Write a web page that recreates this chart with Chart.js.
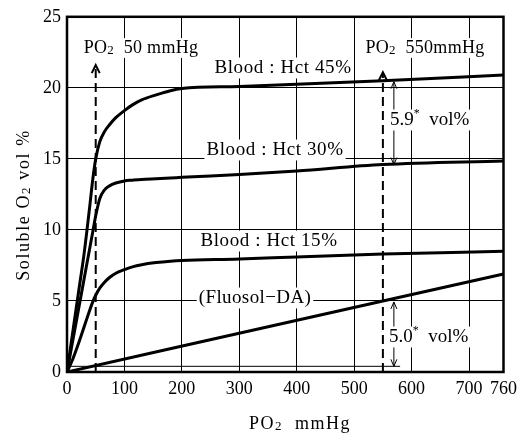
<!DOCTYPE html>
<html>
<head>
<meta charset="utf-8">
<script src="https://cdn.jsdelivr.net/npm/chart.js@4"></script>
<style>
body{margin:0;background:#fff;}
#wrap{width:523px;height:435px;}
</style>
</head>
<body>
<div id="wrap"><canvas id="o2Chart"></canvas></div>
<script>
// PO2 (mmHg) sampled for the blood curves
const PO2 = [0, 10, 20, 30, 40, 45, 50, 57, 65, 74, 85, 100, 114, 130, 155, 180, 200, 300, 400, 550, 760];
const HCT45 = [0, 2.8, 5.6, 8.4, 11.8, 13.6, 15.0, 16.2, 16.9, 17.4, 17.9, 18.4, 18.8, 19.15, 19.5, 19.8, 19.95, 20.1, 20.25, 20.5, 20.9];
const HCT30 = [0, 2.2, 4.4, 6.6, 8.8, 9.9, 11.0, 12.2, 12.8, 13.1, 13.3, 13.45, 13.5, 13.55, 13.6, 13.65, 13.7, 13.9, 14.15, 14.6, 14.85];
const HCT15 = [0, 0.9, 2.0, 3.2, 4.4, 4.95, 5.4, 5.9, 6.3, 6.65, 6.95, 7.2, 7.4, 7.55, 7.7, 7.8, 7.85, 7.95, 8.1, 8.3, 8.5];
const FLUOSOL_PO2 = [0, 550, 760];
const FLUOSOL = [0, 5.0, 6.9];

const X_TICKS = [0, 100, 200, 300, 400, 500, 600, 700, 760];
const Y_TICKS = [0, 5, 10, 15, 20, 25];
const MARK_PO2 = [50, 550];

const SERIF = '"Liberation Serif", "DejaVu Serif", serif';

function pts(xs, ys) {
  return xs.map((x, i) => ({x: x, y: ys[i]}));
}

function arrowHead(ctx, x, y, dir, w, h) {
  // dir = -1 points up, 1 points down
  ctx.beginPath();
  ctx.moveTo(x - w, y - dir * h);
  ctx.lineTo(x, y);
  ctx.lineTo(x + w, y - dir * h);
  ctx.stroke();
}

// runs: [text, scale, dy] pieces so subscripts/superscripts sit right
function runs(ctx, parts, x, cy, size, spacing, align, bg) {
  ctx.letterSpacing = (spacing || 0) + 'px';
  ctx.textBaseline = 'middle';
  ctx.textAlign = 'left';
  const widths = parts.map(p => {
    ctx.font = Math.round(size * p[1]) + 'px ' + SERIF;
    return ctx.measureText(p[0]).width;
  });
  const total = widths.reduce((s, w) => s + w, 0);
  let left = align === 'center' ? x - total / 2 : x;
  if (bg) {
    ctx.fillStyle = '#fff';
    ctx.fillRect(left - 2, cy - size * 0.55, total + 4, size * 1.1);
  }
  ctx.fillStyle = '#000';
  parts.forEach((p, i) => {
    ctx.font = Math.round(size * p[1]) + 'px ' + SERIF;
    ctx.fillText(p[0], left, cy + p[2]);
    left += widths[i];
  });
}

const notes = {
  id: 'notes',
  afterDatasetsDraw(chart) {
    const {ctx, chartArea: a, scales: {x, y}} = chart;
    ctx.save();
    ctx.strokeStyle = '#000';

    // dashed PO2 markers with arrows
    const tips = [21.6, 21.1];
    MARK_PO2.forEach((p, i) => {
      const px = x.getPixelForValue(p);
      const top = y.getPixelForValue(tips[i]);
      ctx.lineWidth = 2;
      ctx.setLineDash([9, 5]);
      ctx.beginPath();
      ctx.moveTo(px, a.bottom);
      ctx.lineTo(px, top + 2);
      ctx.stroke();
      ctx.setLineDash([]);
      arrowHead(ctx, px, top, -1, 4, 8);
    });

    // difference arrows at PO2 550
    const ax = x.getPixelForValue(MARK_PO2[1]) + 11;
    ctx.lineWidth = 1;
    const spans = [[HCT45[19], HCT30[19]], [FLUOSOL[1], 0.4]];
    spans.forEach(s => {
      const y1 = y.getPixelForValue(s[0]) + 1;
      const y2 = y.getPixelForValue(s[1]);
      ctx.beginPath();
      ctx.moveTo(ax, y1);
      ctx.lineTo(ax, y2);
      ctx.stroke();
      arrowHead(ctx, ax, y1, -1, 3, 7);
      arrowHead(ctx, ax, y2, 1, 3, 7);
    });
    // baseline for the fluosol difference
    const by = y.getPixelForValue(0.4);
    ctx.beginPath();
    ctx.moveTo(a.left, by);
    ctx.lineTo(x.getPixelForValue(580), by);
    ctx.stroke();

    // text on the plot
    runs(ctx, [['PO', 1, 0], ['2', 0.7, 3], ['  50 mmHg', 1, 0]], 141, 48, 18, 0.3, 'center', true);
    runs(ctx, [['PO', 1, 0], ['2', 0.7, 3], ['  550mmHg', 1, 0]], 425, 48, 18, 0.3, 'center', true);
    runs(ctx, [['Blood : Hct 45%', 1, 0]], 283, 68, 19, 0.6, 'center', true);
    runs(ctx, [['Blood : Hct 30%', 1, 0]], 275, 150, 19, 0.6, 'center', true);
    runs(ctx, [['Blood : Hct 15%', 1, 0]], 269, 241, 19, 0.6, 'center', true);
    runs(ctx, [['(Fluosol\u2212DA)', 1, 0]], 255, 298, 19, 0.4, 'center', true);
    runs(ctx, [['5.9', 1, 0], ['*', 0.65, -6], ['  vol%', 1, 0]], 390, 120, 19, 0, 'left', true);
    runs(ctx, [['5.0', 1, 0], ['*', 0.65, -6], ['  vol%', 1, 0]], 389, 337, 19, 0, 'left', true);

    // axis titles
    runs(ctx, [['PO', 1, 0], ['2', 0.7, 3], ['  mmHg', 1, 0]], 300, 424, 18, 1.5, 'center', false);
    ctx.translate(24, 205);
    ctx.rotate(-Math.PI / 2);
    runs(ctx, [['Soluble O', 1, 0], ['2', 0.7, 3], [' vol %', 1, 0]], 0, 0, 18, 1.6, 'center', false);
    ctx.restore();

    // frame
    ctx.save();
    ctx.lineWidth = 2.5;
    ctx.strokeStyle = '#000';
    ctx.strokeRect(a.left, a.top, a.right - a.left, a.bottom - a.top);
    ctx.restore();
  }
};

const curve = {
  borderColor: '#000',
  borderWidth: 3,
  pointRadius: 0,
  fill: false,
  cubicInterpolationMode: 'monotone'
};

new Chart(document.getElementById('o2Chart'), {
  type: 'line',
  data: {
    datasets: [
      Object.assign({label: 'Blood: Hct 45%', data: pts(PO2, HCT45)}, curve),
      Object.assign({label: 'Blood: Hct 30%', data: pts(PO2, HCT30)}, curve),
      Object.assign({label: 'Blood: Hct 15%', data: pts(PO2, HCT15)}, curve),
      Object.assign({label: 'Fluosol-DA', data: pts(FLUOSOL_PO2, FLUOSOL)}, curve)
    ]
  },
  options: {
    responsive: true,
    maintainAspectRatio: false,
    animation: false,
    layout: {padding: {left: 0, top: 13, right: 16, bottom: 0}},
    plugins: {legend: {display: false}, tooltip: {enabled: false}},
    scales: {
      x: {
        type: 'linear',
        min: 0,
        max: 760,
        afterBuildTicks: s => { s.ticks = X_TICKS.map(v => ({value: v})); },
        afterFit: s => { s.height = 63; },
        grid: {color: '#000', lineWidth: 1, drawTicks: false},
        border: {display: false},
        ticks: {color: '#000', padding: 6, maxRotation: 0, font: {family: SERIF, size: 18}}
      },
      y: {
        min: 0,
        max: 25,
        afterBuildTicks: s => { s.ticks = Y_TICKS.map(v => ({value: v})); },
        afterFit: s => { s.width = 67; },
        grid: {color: '#000', lineWidth: 1, drawTicks: false},
        border: {display: false},
        ticks: {color: '#000', padding: 6, font: {family: SERIF, size: 18}}
      }
    }
  },
  plugins: [notes]
});
</script>
</body>
</html>
